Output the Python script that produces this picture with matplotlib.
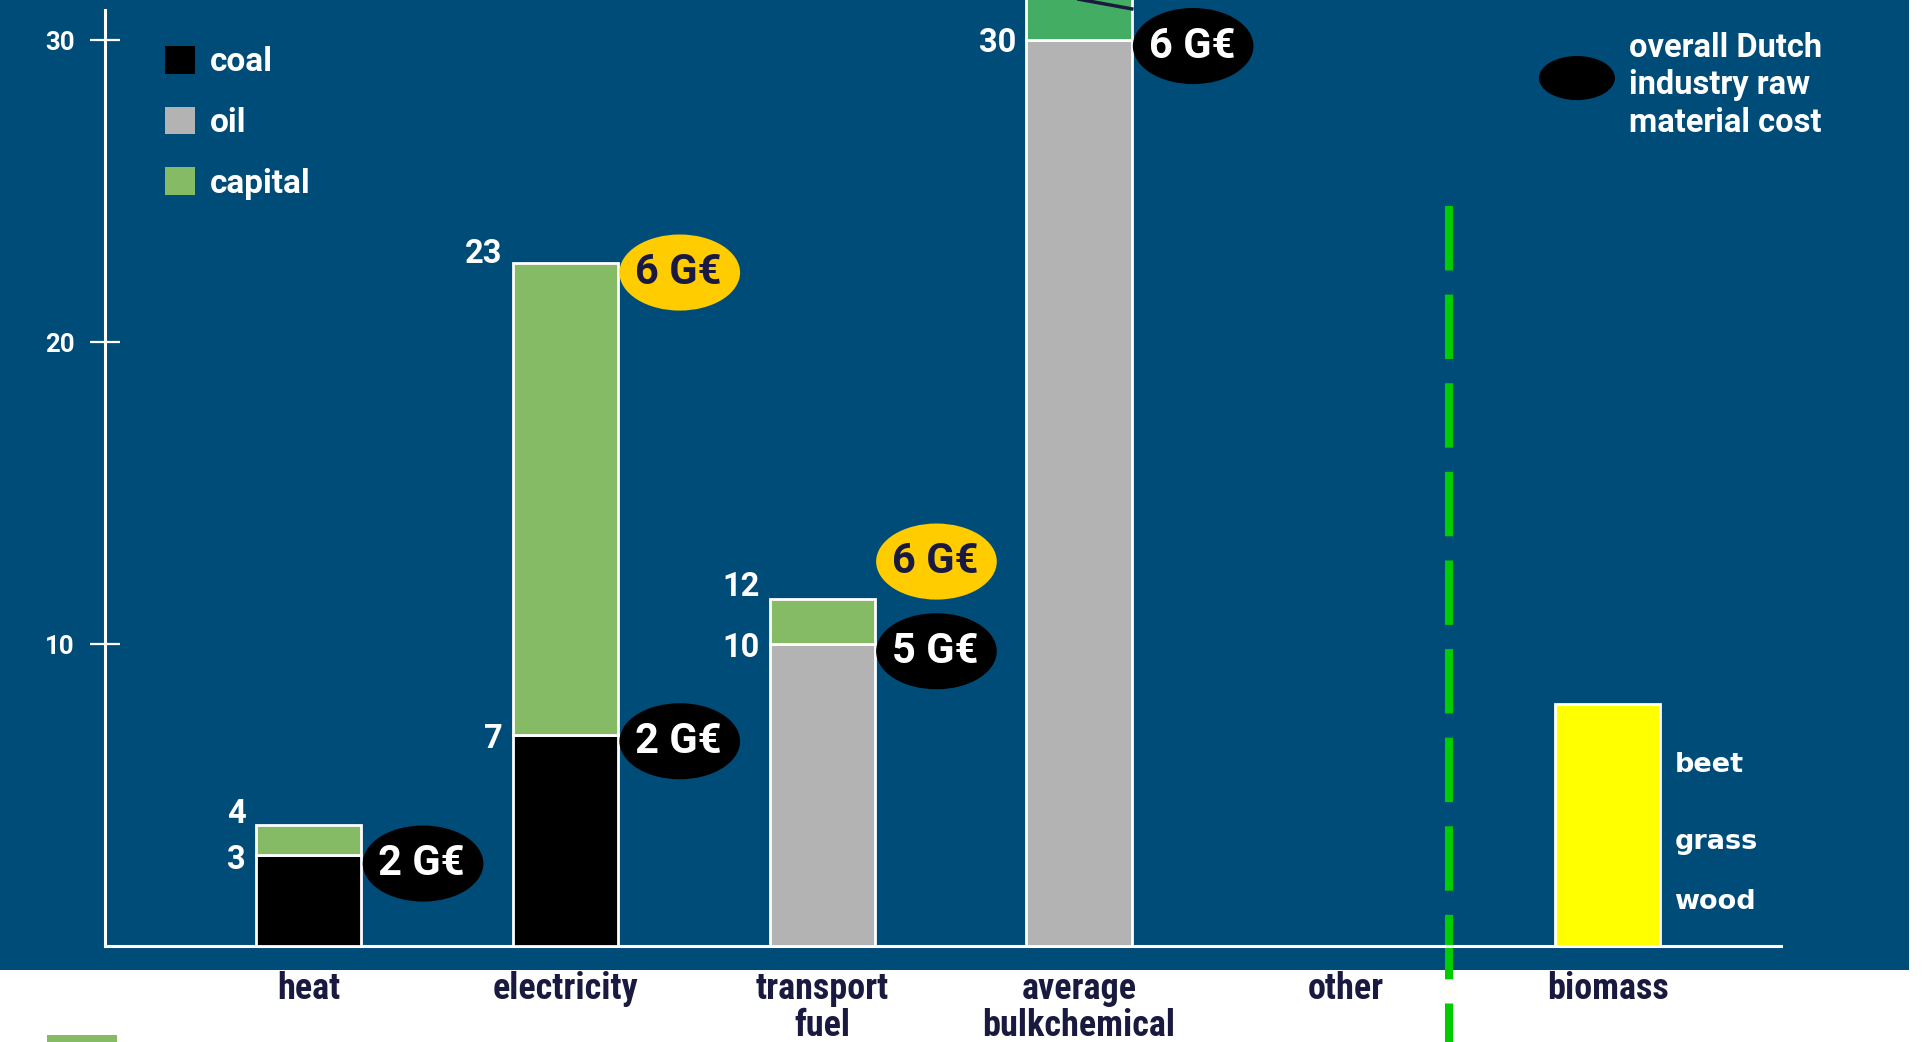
import matplotlib
matplotlib.use("Agg")
import matplotlib.pyplot as plt
from matplotlib.patches import Ellipse, Rectangle, Patch
from matplotlib import font_manager as fm

# ---------------- data ----------------
categories = ["heat", "electricity", "transport\nfuel", "average\nbulkchemical", "other", "biomass"]
bar_pos = [0, 1, 2, 3]
coal = [3, 7, 0, 0]
oil = [0, 0, 10, 30]
capital = [1, 15.6, 1.5, 3]
biomass_pos = 5.06
biomass_value = 8
biomass_kinds = ["beet", "grass", "wood"]
biomass_kind_y = [6.0, 3.45, 1.47]

value_labels = ["4", "3", "23", "7", "12", "10", "30"]
value_label_pos = [0, 0, 1, 1, 2, 2, 3]
value_label_y = [4.37, 2.86, 22.9, 6.86, 11.9, 9.88, 29.9]

cost_labels = ["2 G€", "6 G€", "2 G€", "6 G€", "5 G€", "6 G€"]
cost_pos = [0, 1, 1, 2, 2, 3]
cost_y = [2.73, 22.3, 6.78, 12.73, 9.76, 29.8]
cost_kind = ["black", "yellow", "black", "yellow", "black", "black"]

yticks = [10, 20, 30]
divider_x = 4.44

# ---------------- style ----------------
BLUE = "#004c78"
NAVY = "#1a1a40"
C_COAL, C_OIL, C_CAP, C_CAP2 = "#000000", "#b3b3b3", "#85bb65", "#43ad63"
C_YEL, C_ELL_Y = "#ffff00", "#ffcc00"

avail = {f.name for f in fm.fontManager.ttflist}
MAIN = ["Roboto", "DejaVu Sans"] if "Roboto" in avail else ["DejaVu Sans"]
narrow_stretch = "normal"
if "Liberation Sans Narrow" in avail:
    NARROW = ["Liberation Sans Narrow", "DejaVu Sans"]
elif "Roboto Condensed" in avail:
    NARROW = ["Roboto Condensed", "DejaVu Sans"]
else:
    NARROW = ["DejaVu Sans"]
    narrow_stretch = "condensed"
plt.rcParams["font.family"] = MAIN

W, H, DPI = 1932, 1042, 100
fig = plt.figure(figsize=(W / DPI, H / DPI), dpi=DPI, facecolor="white")
# blue panel
fig.patches.append(Rectangle((0, 72 / H), 1909 / W, 1 - 72 / H, transform=fig.transFigure,
                             facecolor=BLUE, edgecolor="none", zorder=-10))
# cut-off green patch at bottom-left
fig.patches.append(Rectangle((47 / W, 0), 70 / W, 7 / H, transform=fig.transFigure,
                             facecolor=C_CAP, edgecolor="none", zorder=-10))

ax_left, ax_right, ax_bottom = 105 / W, 1781 / W, (H - 946) / H
ax = fig.add_axes([ax_left, ax_bottom, ax_right - ax_left, 1 - ax_bottom])
ax.set_zorder(1)
ax.set_facecolor("none")
ymax = 946 / 30.2
ax.set_ylim(0, ymax)
ax.set_xlim(-0.794, 5.735)

bw = 0.41
ekw = dict(edgecolor="white", linewidth=2.0, zorder=3)
ax.bar(bar_pos, coal, bw, color=C_COAL, **ekw)
ax.bar(bar_pos, oil, bw, bottom=coal, color=C_OIL, **ekw)
bottoms = [c + o for c, o in zip(coal, oil)]
cap_colors = [C_CAP, C_CAP, C_CAP, C_CAP2]
ax.bar(bar_pos, capital, bw, bottom=bottoms, color=cap_colors, **ekw)
ax.bar([biomass_pos], [biomass_value], bw, color=C_YEL, **ekw)

for p in ax.patches:
    if p.get_height() == 0:
        p.set_visible(False)

# value labels
for t, p, y in zip(value_labels, value_label_pos, value_label_y):
    ax.text(p - bw / 2 - 0.04, y, t, ha="right", va="center", color="white",
            fontsize=23.5, fontweight="bold", zorder=5)

# cost ellipses
ew, eh = 0.47, 2.52
for t, p, y, k in zip(cost_labels, cost_pos, cost_y, cost_kind):
    cx = p + bw / 2 + ew / 2 + 0.005
    fc = "black" if k == "black" else C_ELL_Y
    tc = "white" if k == "black" else NAVY
    ax.add_patch(Ellipse((cx, y), ew, eh, facecolor=fc, edgecolor="none", zorder=4))
    ax.text(cx - 0.005, y, t, ha="center", va="center", color=tc, fontsize=30,
            fontweight="bold", zorder=5)

# biomass kinds
for t, y in zip(biomass_kinds, biomass_kind_y):
    ax.text(5.32, y, t, ha="left", va="center", color="white", fontsize=19.5,
            fontweight="bold", family=["DejaVu Sans"], zorder=5)

# divider dashed line
ln, = ax.plot([divider_x, divider_x], [(946 - 206) / 30.2, -96 / 30.2], color="#00cc00",
              linewidth=5.8, solid_capstyle="butt", dash_capstyle="butt", clip_on=False, zorder=2)
ln.set_dashes([64 / 8, 24 / 8])

# cut-off annotation line at top of average bar
ax.plot([3.0, 3.206], [31.35, 31.03], color=NAVY, linewidth=2.5, clip_on=False, zorder=5)

# overall legend ellipse + text
ax.add_patch(Ellipse((4.94, 28.74), 0.296, 1.46, facecolor="black", edgecolor="none", zorder=4))
ax.text(5.144, 28.5, "overall Dutch\nindustry raw\nmaterial cost", ha="left", va="center",
        color="white", fontsize=23.5, fontweight="bold", linespacing=1.22, zorder=5)

# legend
handles = [Patch(facecolor=C_COAL, label="coal"), Patch(facecolor=C_OIL, label="oil"),
           Patch(facecolor=C_CAP, label="capital")]
leg = ax.legend(handles=handles, loc="upper left",
                bbox_to_anchor=((165 - 105) / (1781 - 105), 1 - 46 / 946),
                frameon=False, fontsize=24, handlelength=0.9, handleheight=0.9,
                handletextpad=0.45, labelspacing=0.85, borderaxespad=0, borderpad=0)
for txt in leg.get_texts():
    txt.set_color("white")
    txt.set_fontweight("bold")

# axes styling
for s in ["top", "right"]:
    ax.spines[s].set_visible(False)
ax.spines["left"].set_color("white")
ax.spines["left"].set_linewidth(2.2)
ax.spines["left"].set_bounds(0, 31.0)
ax.spines["bottom"].set_color("white")
ax.spines["bottom"].set_linewidth(2.2)
ax.set_yticks(yticks)
ax.set_yticklabels([str(v) for v in yticks])
ax.tick_params(axis="y", direction="inout", length=22, width=1.6, colors="white",
               labelsize=18.5, pad=11)
for lab in ax.get_yticklabels():
    lab.set_fontweight("bold")

label_x = [0, 1, 2, 3, 4.04, biomass_pos]
ax.set_xticks(label_x)
ax.set_xticklabels(categories, family=NARROW, fontweight="bold", fontsize=26,
                   fontstretch=narrow_stretch, color=NAVY, linespacing=1.05)
ax.tick_params(axis="x", length=0, pad=18)

fig.savefig("out.png", dpi=DPI, facecolor="white")
